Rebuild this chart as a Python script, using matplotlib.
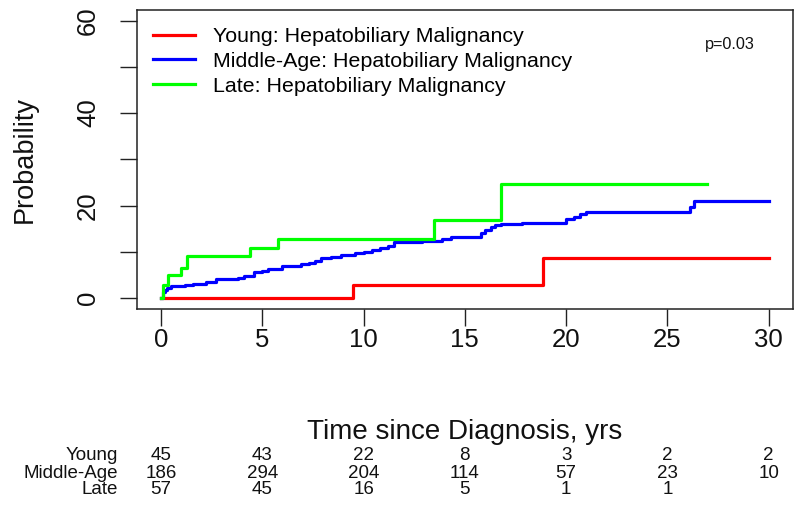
import matplotlib
matplotlib.use("Agg")
import matplotlib.pyplot as plt
import matplotlib.transforms as mtransforms

plt.rcParams['font.family'] = ['Liberation Sans', 'DejaVu Sans']

# ---- data ----
young_t = [0, 9.46, 18.85, 30]
young_p = [0, 2.7, 8.7, 8.7]

mid_t = [0, 0.1, 0.2, 0.3, 0.5, 1.2, 1.6, 2.2, 2.7, 3.3, 3.8, 4.1, 4.6, 5.0, 5.3, 5.95,
         6.4, 6.9, 7.3, 7.6, 7.9, 8.4, 8.9, 9.6, 10.0, 10.4, 10.8, 11.2, 11.5, 12.2,
         12.9, 13.85, 14.3, 15.8, 16.0, 16.3, 16.5, 16.8, 17.8, 20.0, 20.4, 20.7, 21.0,
         26.1, 26.3, 30]
mid_p = [0, 1.2, 1.8, 2.2, 2.5, 2.7, 3.0, 3.4, 4.0, 4.2, 4.4, 4.8, 5.5, 5.8, 6.2, 6.8,
         7.0, 7.3, 7.6, 8.0, 8.7, 8.9, 9.2, 9.8, 10.0, 10.4, 10.8, 11.3, 12.0, 12.2,
         12.3, 12.7, 13.1, 14.0, 14.7, 15.3, 15.8, 16.1, 16.3, 17.0, 17.6, 18.1, 18.6,
         19.6, 20.9, 20.9]

late_t = [0, 0.11, 0.36, 1.0, 1.3, 4.4, 5.8, 13.49, 16.77, 26.95]
late_p = [0, 2.75, 4.9, 6.4, 9.1, 10.8, 12.7, 16.9, 24.6, 24.6]

series_labels = ["Young: Hepatobiliary Malignancy",
                 "Middle-Age: Hepatobiliary Malignancy",
                 "Late: Hepatobiliary Malignancy"]
series_colors = ["#FF0000", "#0000FF", "#00FF00"]

risk_times = [0, 5, 10, 15, 20, 25, 30]
risk_groups = ["Young", "Middle-Age", "Late"]
risk_young = [45, 43, 22, 8, 3, 2, 2]
risk_mid = [186, 294, 204, 114, 57, 23, 10]
risk_late = [57, 45, 16, 5, 1, 1]

x_ticks = [0, 5, 10, 15, 20, 25, 30]
y_ticks = [0, 10, 20, 30, 40, 50, 60]
y_ticklabels = ["0", "", "20", "", "40", "", "60"]
p_text = "p=0.03"

# ---- figure ----
W, H = 800, 505
fig = plt.figure(figsize=(W / 100, H / 100), dpi=100)
ax_l, ax_r, ax_b, ax_t = 136.7, 793, 309, 9.6
ax = fig.add_axes([ax_l / W, 1 - ax_b / H, (ax_r - ax_l) / W, (ax_b - ax_t) / H])

lines = []
for t, p, c, lab in zip([young_t, mid_t, late_t], [young_p, mid_p, late_p],
                        series_colors, series_labels):
    ln, = ax.step(t, p, where='post', color=c, lw=2.3, label=lab)
    lines.append(ln)

ax.set_xlim(-1.2, 31.2)
ax.set_ylim(-2.4, 62.4)
ax.set_xticks(x_ticks)
ax.set_xticklabels([str(v) for v in x_ticks])
ax.set_yticks(y_ticks)
ax.set_yticklabels(y_ticklabels, rotation=90, va='center')

for s in ax.spines.values():
    s.set_color('#222222')
    s.set_linewidth(1.1)

ax.tick_params(axis='both', direction='out', length=12, width=1.0, color='#222222',
               labelsize=18.5, labelcolor='#111111')
ax.tick_params(axis='x', pad=1.5)
ax.tick_params(axis='y', pad=14.5)

ax.set_xlabel("Time since Diagnosis, yrs", fontsize=20, color='#111111')
ax.xaxis.label.set_va('center')
ax.xaxis.set_label_coords((465 - ax_l) / (ax_r - ax_l), -(432 - ax_b) / (ax_b - ax_t))
ax.set_ylabel("Probability", fontsize=19.5, color='#111111')
ax.yaxis.label.set_va('center')
ax.yaxis.set_label_coords((25 - ax_l) / (ax_r - ax_l), 0.5)

ax.legend(handles=lines, loc='upper left', frameon=False, fontsize=15.4,
          bbox_to_anchor=(153 / W, 1 - 27 / H), bbox_transform=fig.transFigure,
          borderpad=0, borderaxespad=0, handlelength=1.95, handletextpad=0.85,
          labelspacing=0.27)

fig.text(730 / W, 1 - 45 / H, p_text, fontsize=11.7, ha='center', va='center', color='#111111')

# risk table
trans = mtransforms.blended_transform_factory(ax.transData, fig.transFigure)
row_y = [456, 473, 490]
risk_font = ['Liberation Sans', 'DejaVu Sans']
for grp, vals, y in zip(risk_groups, [risk_young, risk_mid, risk_late], row_y):
    fig.text(118 / W, 1 - y / H, grp, ha='right', va='center', fontsize=13.5,
             family=risk_font, color='#111111')
    for t, v in zip(risk_times, vals):
        ax.text(t, 1 - y / H, str(v), transform=trans, ha='center', va='center',
                fontsize=13.5, family=risk_font, color='#111111', clip_on=False)

fig.savefig("out.png", dpi=100)
